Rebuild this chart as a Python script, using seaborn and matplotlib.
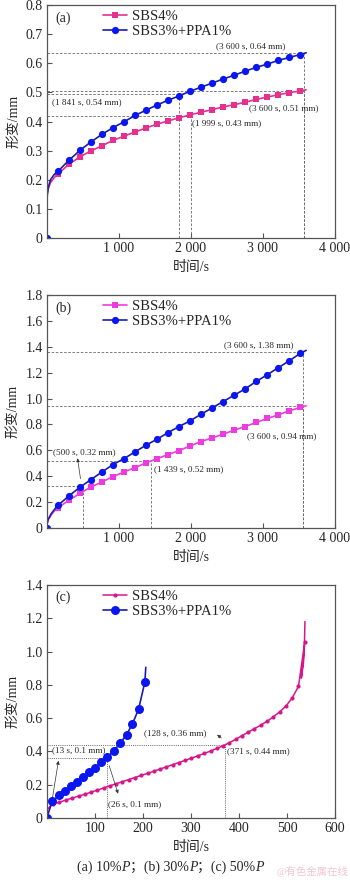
import matplotlib
matplotlib.use('Agg')
import matplotlib.pyplot as plt
import seaborn as sns

# ---- data ----
# (a) 10%P  and (b) 30%P : markers every ~153 s
t_ab = [153, 306, 459, 612, 765, 918, 1071, 1224, 1377, 1530, 1683, 1836,
        1989, 2142, 2295, 2448, 2601, 2754, 2907, 3060, 3213, 3366, 3519]

a_sbs_start_t = [1, 5, 20, 50, 100]
a_sbs_start_y = [0.12, 0.15, 0.17, 0.19, 0.207]
a_sbs = [0.220, 0.253, 0.279, 0.299, 0.317, 0.335, 0.350, 0.364, 0.378, 0.391,
         0.402, 0.413, 0.423, 0.432, 0.441, 0.450, 0.458, 0.466, 0.476, 0.484,
         0.492, 0.499, 0.505]
a_sbs_end = (3600, 0.509)

a_ppa_start_t = [0, 1, 5, 20, 50, 100]
a_ppa_start_y = [0.0, 0.12, 0.15, 0.175, 0.20, 0.218]
a_ppa = [0.229, 0.267, 0.301, 0.330, 0.356, 0.379, 0.399, 0.421, 0.439, 0.457,
         0.473, 0.488, 0.504, 0.518, 0.532, 0.546, 0.559, 0.573, 0.586, 0.597,
         0.610, 0.620, 0.630]
a_ppa_end = (3600, 0.636)

b_sbs_start_t = [1, 5, 20, 60, 100]
b_sbs_start_y = [0.02, 0.04, 0.065, 0.10, 0.13]
b_sbs = [0.157, 0.214, 0.268, 0.317, 0.356, 0.397, 0.433, 0.467, 0.503, 0.536,
         0.567, 0.598, 0.634, 0.668, 0.696, 0.725, 0.756, 0.784, 0.815, 0.846,
         0.874, 0.905, 0.931]
b_sbs_end = (3600, 0.944)

b_ppa_start_t = [0, 5, 20, 60, 100]
b_ppa_start_y = [0.0, 0.04, 0.07, 0.11, 0.14]
b_ppa = [0.175, 0.248, 0.315, 0.374, 0.433, 0.490, 0.536, 0.588, 0.640, 0.686,
         0.737, 0.784, 0.828, 0.879, 0.928, 0.977, 1.026, 1.075, 1.132, 1.184,
         1.238, 1.292, 1.349]
b_ppa_end = (3600, 1.372)

# (c) 50%P
c_sbs_t = [13, 26, 39, 52, 66, 79, 92, 105, 118, 131, 144, 157, 170, 183, 197,
           210, 223, 236, 249, 262, 275, 288, 301, 314, 328, 341, 354, 367, 380,
           393, 406, 419, 432, 445, 459, 472, 485, 498, 511, 524, 537]
c_sbs = [0.083, 0.095, 0.107, 0.119, 0.131, 0.143, 0.155, 0.167, 0.180, 0.193,
         0.205, 0.218, 0.230, 0.243, 0.256, 0.268, 0.281, 0.294, 0.307, 0.320,
         0.333, 0.346, 0.359, 0.373, 0.388, 0.402, 0.418, 0.434, 0.452, 0.472,
         0.494, 0.515, 0.536, 0.557, 0.582, 0.608, 0.638, 0.672, 0.722, 0.790,
         1.055]
c_sbs_start_t = [1, 5]
c_sbs_start_y = [0.05, 0.065]
c_sbs_bend_t = [530, 534, 536]
c_sbs_bend_y = [0.84, 0.92, 0.99]
c_sbs_end = (537.5, 1.18)

c_ppa_t = [0, 11, 26, 38, 51, 63, 76, 88, 101, 113, 126, 140, 153, 166, 178,
           191, 204]
c_ppa = [0.0, 0.102, 0.136, 0.164, 0.190, 0.219, 0.247, 0.275, 0.303, 0.335,
         0.367, 0.405, 0.451, 0.501, 0.564, 0.654, 0.816]
c_ppa_end = (206, 0.905)

labels = ['SBS4%', 'SBS3%+PPA1%']
xt_ab = [1000, 2000, 3000, 4000]
xt_ab_lbl = ['1 000', '2 000', '3 000', '4 000']

blue_line = '#1C1CA8'
blue_mk = '#0A16F0'
pink_a = '#E4308E'
pink_b = '#EC3CE0'
pink_c = '#D8168C'

sns.set_style('ticks')
plt.rcParams['font.family'] = ['Liberation Serif', 'Noto Sans CJK SC']
plt.rcParams['xtick.direction'] = 'in'
plt.rcParams['ytick.direction'] = 'in'

fig = plt.figure(figsize=(3.5, 8.8), dpi=100)
ax_a = fig.add_axes([0.134, 0.7295, 0.823, 0.2648])
ax_b = fig.add_axes([0.134, 0.400, 0.823, 0.2648])
ax_c = fig.add_axes([0.134, 0.0705, 0.823, 0.2648])


def series(ax, start_t, start_y, mt, my, end, color, mcolor, marker, ms, label,
           lw=1.2, start_marked=False, extra_t=(), extra_y=()):
    # line = start points + marked points (+ bend) + end point
    xs = list(start_t) + list(mt) + list(extra_t) + [end[0]]
    ys = list(start_y) + list(my) + list(extra_y) + [end[1]]
    n0 = len(start_t)
    idx = list(range(n0, n0 + len(mt)))
    if start_marked:
        idx = [0] + idx
    sns.lineplot(x=xs, y=ys, ax=ax, color=color, lw=lw, marker=marker,
                 markevery=idx, markersize=ms, markerfacecolor=mcolor,
                 markeredgecolor=mcolor, markeredgewidth=0, label=label,
                 estimator=None, sort=False)


def dashed(ax, x, y, ls=(0, (3, 2)), lw=0.6):
    ax.plot([0, x], [y, y], color='#666666', ls=ls, lw=lw)
    ax.plot([x, x], [0, y], color='#666666', ls=ls, lw=lw)


def style(ax, tag, xlim, ylim, yt, yfmt, xt, xtl):
    ax.set_xlim(*xlim)
    ax.set_ylim(*ylim)
    ax.set_yticks(yt)
    ax.set_yticklabels(['0'] + [yfmt.format(v) for v in yt[1:]])
    ax.set_xticks(xt)
    ax.set_xticklabels(xtl)
    ax.tick_params(labelsize=10, length=3.5, width=0.8, color='#555555', pad=3)
    for s in ax.spines.values():
        s.set_color('#555555')
        s.set_linewidth(0.9)
    ax.set_xlabel('时间/s', fontsize=10, labelpad=4)
    ax.set_ylabel('形变/mm', fontsize=10, labelpad=4)
    ax.text(0.03, 0.945, tag, transform=ax.transAxes, fontsize=10, va='center')
    ax.legend(loc='upper left', bbox_to_anchor=(0.165, 1.015), frameon=False,
              fontsize=10.5, handlelength=1.6, handletextpad=0.35,
              labelspacing=0.1, borderaxespad=0.2)


fs = 6.6

# ---- (a) ----
dashed(ax_a, 3565, 0.634)
dashed(ax_a, 3565, 0.506)
dashed(ax_a, 1841, 0.493)
dashed(ax_a, 1999, 0.418)
series(ax_a, a_sbs_start_t, a_sbs_start_y, t_ab, a_sbs, a_sbs_end, pink_a, pink_a,
       's', 4.2, labels[0])
series(ax_a, a_ppa_start_t, a_ppa_start_y, t_ab, a_ppa, a_ppa_end, blue_line, blue_mk,
       'o', 5.2, labels[1], start_marked=True)
ax_a.text(3310, 0.657, '(3 600 s, 0.64 mm)', fontsize=fs, ha='right', va='center')
ax_a.text(65, 0.466, '(1 841 s, 0.54 mm)', fontsize=fs, va='center')
ax_a.text(2805, 0.445, '(3 600 s, 0.51 mm)', fontsize=fs, va='center')
ax_a.text(2020, 0.394, '(1 999 s, 0.43 mm)', fontsize=fs, va='center')
style(ax_a, '(a)', (0, 4000), (0, 0.8), [0, 0.1, 0.2, 0.3, 0.4, 0.5, 0.6, 0.7, 0.8],
      '{:.1f}', xt_ab, xt_ab_lbl)

# ---- (b) ----
dashed(ax_b, 3560, 1.358)
dashed(ax_b, 3560, 0.943)
dashed(ax_b, 1439, 0.515)
dashed(ax_b, 500, 0.325)
series(ax_b, b_sbs_start_t, b_sbs_start_y, t_ab, b_sbs, b_sbs_end, pink_b, pink_b,
       's', 4.2, labels[0])
series(ax_b, b_ppa_start_t, b_ppa_start_y, t_ab, b_ppa, b_ppa_end, blue_line, blue_mk,
       'o', 5.2, labels[1], start_marked=True)
ax_b.text(3420, 1.409, '(3 600 s, 1.38 mm)', fontsize=fs, ha='right', va='center')
ax_b.text(2775, 0.713, '(3 600 s, 0.94 mm)', fontsize=fs, va='center')
ax_b.text(78, 0.585, '(500 s, 0.32 mm)', fontsize=fs, va='center')
ax_b.text(1486, 0.456, '(1 439 s, 0.52 mm)', fontsize=fs, va='center')
ax_b.annotate('', xy=(420, 0.56), xytext=(472, 0.36),
              arrowprops=dict(arrowstyle='-|>', color='#333333', lw=0.5,
                              mutation_scale=5))
style(ax_b, '(b)', (0, 4000), (0, 1.8), [0, 0.2, 0.4, 0.6, 0.8, 1.0, 1.2, 1.4, 1.6, 1.8],
      '{:.1f}', xt_ab, xt_ab_lbl)

# ---- (c) ----
dashed(ax_c, 126, 0.361, ls=(0, (1, 1.2)), lw=0.7)
dashed(ax_c, 371, 0.441, ls=(0, (1, 1.2)), lw=0.7)
series(ax_c, c_sbs_start_t, c_sbs_start_y, c_sbs_t, c_sbs, c_sbs_end, pink_c, pink_c,
       'o', 3.0, labels[0], lw=1.1, extra_t=c_sbs_bend_t, extra_y=c_sbs_bend_y)
series(ax_c, [], [], c_ppa_t, c_ppa, c_ppa_end, blue_line, blue_mk,
       'o', 6.5, labels[1])
ax_c.text(11, 0.41, '(13 s, 0.1 mm)', fontsize=fs, va='center')
ax_c.text(127, 0.083, '(26 s, 0.1 mm)', fontsize=fs, va='center')
ax_c.text(202, 0.51, '(128 s, 0.36 mm)', fontsize=fs, va='center')
ax_c.text(375, 0.40, '(371 s, 0.44 mm)', fontsize=fs, va='center')
arr = dict(arrowstyle='-|>', color='#333333', lw=0.5, mutation_scale=5)
ax_c.annotate('', xy=(25, 0.36), xytext=(11, 0.11), arrowprops=arr)
ax_c.annotate('', xy=(150, 0.13), xytext=(128, 0.33), arrowprops=arr)
ax_c.annotate('', xy=(350, 0.51), xytext=(368, 0.47), arrowprops=arr)
style(ax_c, '(c)', (0, 600), (0, 1.4), [0, 0.2, 0.4, 0.6, 0.8, 1.0, 1.2, 1.4],
      '{:.1f}', [100, 200, 300, 400, 500, 600], ['100', '200', '300', '400', '500', '600'])

# caption: chain text pieces so P can be italic and the full-width semicolon keeps its CJK glyph
pieces = [('(a) 10%', 'normal'), ('P', 'italic'), ('；(b) 30%', 'normal'),
          ('P', 'italic'), ('；(c) 50%', 'normal'), ('P', 'italic')]
prev = ax_c.annotate(pieces[0][0], xy=(0.22, 0.0145), xycoords='figure fraction',
                     fontsize=10, va='center', ha='left', annotation_clip=False)
for txt, st in pieces[1:]:
    prev = ax_c.annotate(txt, xy=(1, 0.5), xycoords=prev, fontsize=10, va='center',
                         ha='left', fontstyle=st, annotation_clip=False)
fig.text(0.995, 0.010, '@有色金属在线', fontsize=7.5, ha='right', va='center',
         color='#E8A0B4', alpha=0.6)

fig.savefig('out.png', dpi=100)
